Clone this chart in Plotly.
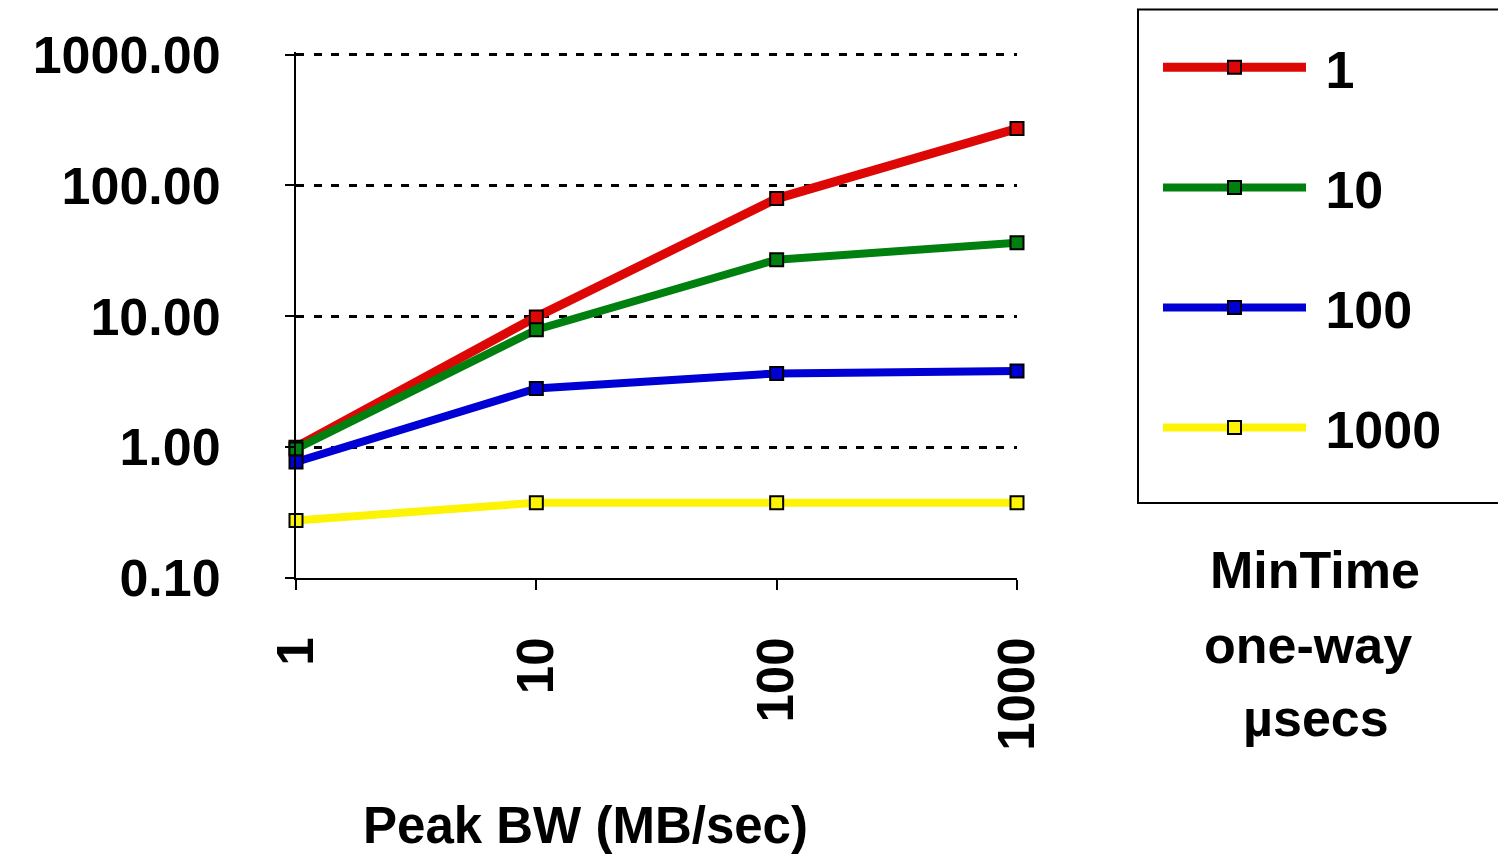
import plotly.graph_objects as go

bw = [1, 10, 100, 1000]
series_names = ["1", "10", "100", "1000"]
t_1 = [1.0, 9.9, 79.4, 272]
t_10 = [0.97, 7.9, 27.1, 36.5]
t_100 = [0.77, 2.81, 3.66, 3.82]
t_1000 = [0.275, 0.376, 0.376, 0.376]
colors = ["#dd0806", "#00800f", "#0000d4", "#fcf305"]
widths = [9, 8, 8, 8]
y_ticks = [0.1, 1, 10, 100, 1000]
y_ticklabels = ["0.10", "1.00", "10.00", "100.00", "1000.00"]
x_ticklabels = ["1", "10", "100", "1000"]

FONT = "Liberation Sans"
# page body has an 8px margin; figure coords = screen coords - 8
OFF = 8
L, T, PW, PH = 296 - OFF, 44, 721, 526
FW, FH = 1506 - OFF, 857 - OFF


def px(x):
    return (x - OFF - L) / PW


def py(y):
    return (T + PH - (y - OFF)) / PH


fig = go.Figure()
for name, vals, c, w in zip(series_names, [t_1, t_10, t_100, t_1000], colors, widths):
    fig.add_trace(go.Scatter(
        x=bw, y=vals, name="\u00a0" + name, mode="lines+markers", legendgroup=name,
        line=dict(color=c, width=w),
        marker=dict(symbol="square", size=13, color=c, line=dict(color="black", width=2)),
        cliponaxis=False,
    ))

fig.update_layout(
    width=FW, height=FH,
    margin=dict(l=L, r=FW - L - PW, t=T, b=FH - T - PH, autoexpand=False),
    paper_bgcolor="white", plot_bgcolor="white",
    font=dict(family=FONT, color="black", size=48),
    showlegend=True,
    legend=dict(
        x=px(1158), xanchor="left", y=py(27), yanchor="top",
        font=dict(family=FONT, size=52, color="black", weight="bold"),
        itemwidth=143, tracegroupgap=49.5, bgcolor="rgba(0,0,0,0)",
        maxheight=700,
    ),
    xaxis=dict(
        type="log", range=[0, 3], tickvals=bw, ticktext=x_ticklabels,
        tickangle=-90, showgrid=False, zeroline=False,
        showline=True, linecolor="black", linewidth=2,
        ticks="outside", ticklen=10, tickwidth=2, tickcolor="black",
        ticklabelstandoff=27, automargin=False,
        tickfont=dict(family=FONT, size=51, weight="bold"),
    ),
    yaxis=dict(
        type="log", range=[-1, 3.02], tickvals=y_ticks, ticktext=y_ticklabels,
        showgrid=True, gridcolor="black", gridwidth=2.5, griddash="8px,9.5px",
        zeroline=False, showline=True, linecolor="black", linewidth=2,
        ticks="outside", ticklen=9, tickwidth=2, tickcolor="black",
        ticklabelstandoff=54, automargin=False,
        tickfont=dict(family=FONT, size=52, weight="bold"),
    ),
)

fig.add_shape(type="rect", xref="paper", yref="paper",
              x0=px(1138), x1=px(1530), y0=py(503), y1=py(9.5),
              line=dict(color="black", width=2))

fig.add_annotation(text="Peak BW (MB/sec)", xref="paper", yref="paper",
                   x=px(585), y=py(825), showarrow=False,
                   xanchor="center", yanchor="middle",
                   font=dict(family=FONT, size=51, weight="bold"))
for txt, cx, cy in [("MinTime", 1315, 570), ("one-way", 1308, 645), ("µsecs", 1316, 718)]:
    fig.add_annotation(text=txt, xref="paper", yref="paper",
                       x=px(cx), y=py(cy), showarrow=False,
                       xanchor="center", yanchor="middle",
                       font=dict(family=FONT, size=52, weight="bold"))

fig.write_html("out.html")
